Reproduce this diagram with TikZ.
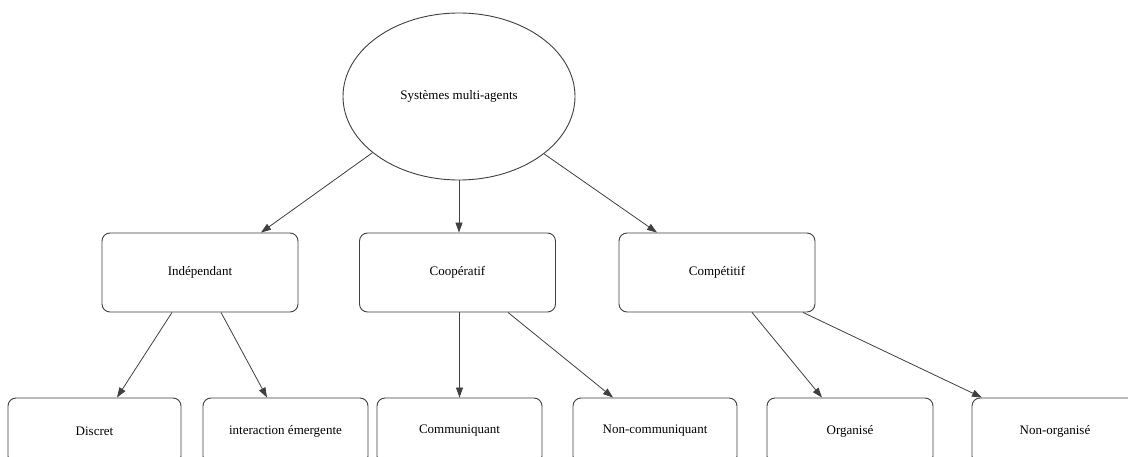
\documentclass[tikz,border=0pt]{standalone}
\usepackage{fontspec}
\setmainfont{Liberation Serif}
\usetikzlibrary{arrows.meta,shapes.geometric,calc}
\begin{document}
\begin{tikzpicture}[x=1pt,y=-1pt,
  lbl/.style={font=\fontsize{13}{15}\selectfont, text=black},
  box/.style={lbl, draw=black!75, rounded corners=8pt, line width=0.9pt, inner sep=0pt},
  oval/.style={lbl, ellipse, draw=black!75, line width=0.9pt, inner sep=0pt},
  arr/.style={draw=black!75, line width=0.8pt, -{Triangle[length=10pt,width=7pt]}}]
\useasboundingbox[fill=white] (0,0) rectangle (1128,457);
\begin{scope}
\clip (0,0) rectangle (1128,457);
\node[oval, minimum width=232pt, minimum height=167pt] (root) at (459,96.5) {Systèmes multi-agents};
\node[box, minimum width=196pt, minimum height=79pt] (ind) at (200,272.5) {Indépendant};
\node[box, minimum width=196pt, minimum height=79pt] (coop) at (457.5,272.5) {Coopératif};
\node[box, minimum width=196pt, minimum height=79pt] (comp) at (717,272.5) {Compétitif};
\node[box, minimum width=173pt, minimum height=66pt] (disc) at (94.5,431) {Discret};
\node[box, minimum width=165pt, minimum height=66pt] (inter) at (285.5,431) {interaction émergente};
\node[box, minimum width=165pt, minimum height=66pt] (comm) at (459.5,431) {Communiquant};
\node[box, minimum width=164pt, minimum height=66pt] (noncomm) at (655,431) {Non-communiquant};
\node[box, minimum width=166pt, minimum height=66pt] (org) at (850,431) {Organisé};
\node[box, minimum width=166pt, minimum height=66pt] (nonorg) at (1055,431) {Non-organisé};
\draw[arr] (root.213.8) -- ([xshift=61pt]ind.north);
\draw[arr] (root.south) -- (root.south |- coop.north);
\draw[arr] (root.326) -- ([xshift=-60pt]comp.north);
\draw[arr] ([xshift=-28pt]ind.south) -- ([xshift=22.5pt]disc.north);
\draw[arr] ([xshift=21pt]ind.south) -- ([xshift=-18.5pt]inter.north);
\draw[arr] (comm.north |- coop.south) -- (comm.north);
\draw[arr] ([xshift=50.5pt]coop.south) -- ([xshift=-42pt]noncomm.north);
\draw[arr] ([xshift=35pt]comp.south) -- ([xshift=-28pt]org.north);
\draw[arr] ([xshift=86pt]comp.south) -- ([xshift=-73pt]nonorg.north);
\end{scope}
\end{tikzpicture}
\end{document}
